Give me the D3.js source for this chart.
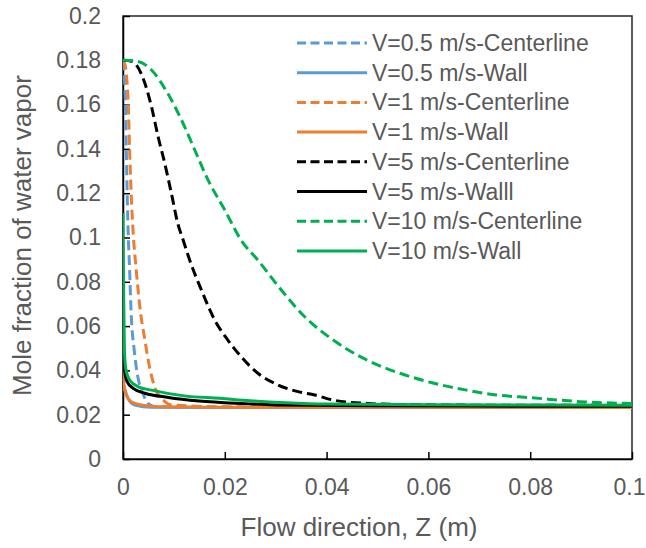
<!DOCTYPE html>
<html>
<head>
<meta charset="utf-8">
<script src="https://cdn.jsdelivr.net/npm/d3@7"></script>
<style>
  body { margin: 0; background: #fff; }
  text { font-family: "Liberation Sans", Arial, sans-serif; fill: #595959; }
</style>
</head>
<body>
<div id="chart"></div>
<script>
// z in m, mole fraction
var v05Center = [[0,0.18],[0.0002,0.175],[0.00045,0.162],[0.00065,0.1395],[0.00085,0.117],[0.001,0.1034],[0.0013,0.0853],[0.0016,0.0658],[0.0022,0.0492],[0.0029,0.0372],[0.0039,0.0297],[0.0049,0.0251],[0.0063,0.0236],[0.02,0.0234],[0.1,0.0233]];
var v05Wall = [[0,0.034],[0.0003,0.0319],[0.001,0.0274],[0.0023,0.0244],[0.0056,0.0234],[0.02,0.0233],[0.1,0.0232]];
var v1Center = [[0,0.18],[0.0004,0.178],[0.0008,0.170],[0.001,0.162],[0.0013,0.1395],[0.0016,0.12],[0.002,0.102],[0.0026,0.0853],[0.0033,0.0688],[0.0043,0.0537],[0.0052,0.0417],[0.0062,0.0326],[0.0079,0.0266],[0.0095,0.0244],[0.02,0.0236],[0.1,0.0235]];
var v1Wall = [[0,0.042],[0.0002,0.0334],[0.0006,0.0289],[0.0016,0.0259],[0.0036,0.0244],[0.007,0.0236],[0.02,0.0234],[0.1,0.0233]];
var v5Center = [[0,0.18],[0.0015,0.1797],[0.0026,0.178],[0.0043,0.1696],[0.0056,0.159],[0.0069,0.1455],[0.0082,0.1335],[0.0095,0.12],[0.0108,0.106],[0.0118,0.099],[0.0131,0.0898],[0.0154,0.0763],[0.018,0.0628],[0.0206,0.0537],[0.0232,0.0462],[0.0265,0.0387],[0.0305,0.0334],[0.0344,0.0304],[0.0377,0.0289],[0.0413,0.0266],[0.0479,0.0251],[0.0544,0.0246],[0.07,0.0243],[0.1,0.0242]];
var v5Wall = [[0,0.05],[0.0002,0.0447],[0.0003,0.0402],[0.0008,0.0349],[0.002,0.0319],[0.0043,0.0297],[0.0089,0.0278],[0.015,0.0262],[0.024,0.025],[0.03,0.0244],[0.05,0.024],[0.1,0.0238]];
var v10Center = [[0,0.18],[0.0003,0.18],[0.0029,0.1795],[0.0056,0.1756],[0.0088,0.165],[0.0115,0.153],[0.0141,0.1395],[0.0167,0.126],[0.02,0.1124],[0.0232,0.0988],[0.0265,0.0898],[0.0311,0.0763],[0.0357,0.0642],[0.0413,0.0537],[0.0479,0.0447],[0.0544,0.0387],[0.0609,0.0343],[0.0675,0.0311],[0.0734,0.0289],[0.08,0.0277],[0.0898,0.0259],[0.1,0.025]];
var v10Wall = [[0,0.111],[0.0001,0.08],[0.0002,0.063],[0.0003,0.048],[0.0006,0.040],[0.0013,0.0357],[0.003,0.0326],[0.0056,0.0311],[0.012,0.0285],[0.019,0.0274],[0.025,0.0263],[0.032,0.0254],[0.04,0.0248],[0.06,0.0245],[0.1,0.0243]];

var seriesNames = ['V=0.5 m/s-Centerline','V=0.5 m/s-Wall','V=1 m/s-Centerline','V=1 m/s-Wall',
                   'V=5 m/s-Centerline','V=5 m/s-Walll','V=10 m/s-Centerline','V=10 m/s-Wall'];
var seriesData = [v05Center, v05Wall, v1Center, v1Wall, v5Center, v5Wall, v10Center, v10Wall];
var seriesColors = ['#5B9BD5','#5B9BD5','#ED7D31','#ED7D31','#000000','#000000','#00B050','#00B050'];
var seriesDashed = [true, false, true, false, true, false, true, false];

var xTicks = [0, 0.02, 0.04, 0.06, 0.08, 0.1];
var yTicks = [0, 0.02, 0.04, 0.06, 0.08, 0.1, 0.12, 0.14, 0.16, 0.18, 0.2];

var width = 646, height = 548;
var margin = { left: 123, right: 14, top: 16, bottom: 89 };

var svg = d3.select('#chart').append('svg')
  .attr('width', width)
  .attr('height', height);

var x = d3.scaleLinear().domain([0, 0.1]).range([margin.left, width - margin.right]);
var y = d3.scaleLinear().domain([0, 0.2]).range([height - margin.bottom, margin.top]);

svg.append('defs').append('clipPath').attr('id', 'plotclip')
  .append('rect')
  .attr('x', x(0)).attr('y', y(0.2))
  .attr('width', x(0.1) - x(0)).attr('height', y(0) - y(0.2));

// frame
svg.append('rect')
  .attr('x', x(0)).attr('y', y(0.2))
  .attr('width', x(0.1) - x(0)).attr('height', y(0) - y(0.2))
  .attr('fill', 'none')
  .attr('stroke', '#262626')
  .attr('stroke-width', 1.5);

var fmt = function(d) { return String(+d.toFixed(2)); };

var xAxis = svg.append('g')
  .attr('transform', 'translate(0,' + y(0) + ')')
  .call(d3.axisBottom(x).tickValues(xTicks).tickSizeInner(-7).tickSizeOuter(0).tickPadding(20).tickFormat(fmt));

var yAxis = svg.append('g')
  .attr('transform', 'translate(' + x(0) + ',0)')
  .call(d3.axisLeft(y).tickValues(yTicks).tickSizeInner(-7).tickSizeOuter(0).tickPadding(22).tickFormat(fmt));

[xAxis, yAxis].forEach(function(g) {
  g.select('.domain').attr('stroke', '#000').attr('stroke-width', 1.5);
  g.selectAll('.tick line').attr('stroke', '#000').attr('stroke-width', 1.5);
  g.selectAll('.tick text')
    .attr('font-family', '"Liberation Sans", Arial, sans-serif')
    .attr('font-size', 23)
    .attr('fill', '#595959');
});

// last x label sits at the page edge, nudge it in
xAxis.selectAll('.tick text').filter(function(d) { return d === 0.1; }).attr('dx', -3);

// axis titles
svg.append('text')
  .attr('x', 359)
  .attr('y', 536)
  .attr('text-anchor', 'middle')
  .attr('font-size', 26)
  .text('Flow direction, Z (m)');

svg.append('text')
  .attr('transform', 'translate(31,' + ((y(0) + y(0.2)) / 2 - 2) + ') rotate(-90)')
  .attr('text-anchor', 'middle')
  .attr('font-size', 26)
  .text('Mole fraction of water vapor');

var line = d3.line()
  .x(function(d) { return x(d[0]); })
  .y(function(d) { return y(d[1]); })
  .curve(d3.curveMonotoneX);

var plot = svg.append('g').attr('clip-path', 'url(#plotclip)');

plot.selectAll('path.series').data(seriesData).enter()
  .append('path')
  .attr('class', 'series')
  .attr('d', line)
  .attr('fill', 'none')
  .attr('stroke', function(d, i) { return seriesColors[i]; })
  .attr('stroke-width', 3)
  .attr('stroke-linejoin', 'round')
  .attr('stroke-dasharray', function(d, i) { return seriesDashed[i] ? '10,5' : null; });

// legend
var legend = svg.append('g').attr('transform', 'translate(297,43)');
var items = legend.selectAll('g.item').data(seriesNames).enter()
  .append('g')
  .attr('class', 'item')
  .attr('transform', function(d, i) { return 'translate(0,' + (i * 29.7) + ')'; });

items.append('line')
  .attr('x1', 0).attr('x2', 70)
  .attr('y1', 0).attr('y2', 0)
  .attr('stroke', function(d, i) { return seriesColors[i]; })
  .attr('stroke-width', 3)
  .attr('stroke-dasharray', function(d, i) { return seriesDashed[i] ? '9,4.5' : null; });

items.append('text')
  .attr('x', 75)
  .attr('y', 0)
  .attr('dy', '0.35em')
  .attr('font-size', 23)
  .text(function(d) { return d; });
</script>
</body>
</html>
